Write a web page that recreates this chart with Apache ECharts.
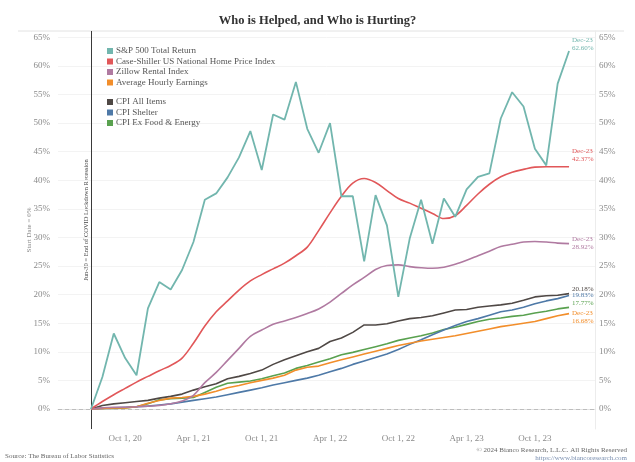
<!DOCTYPE html>
<html><head><meta charset="utf-8">
<script src="https://cdn.jsdelivr.net/npm/echarts@6/dist/echarts.min.js"></script>
<style>html,body{margin:0;padding:0;background:#fff}#c{width:635px;height:462px}</style>
</head><body><div id="c"></div>
<script>
// Month index 0 = Jun-30-2020 (start date), 42 = Dec-2023
const months = ['Jun-20','Jul-20','Aug-20','Sep-20','Oct-20','Nov-20','Dec-20',
 'Jan-21','Feb-21','Mar-21','Apr-21','May-21','Jun-21','Jul-21','Aug-21','Sep-21','Oct-21','Nov-21','Dec-21',
 'Jan-22','Feb-22','Mar-22','Apr-22','May-22','Jun-22','Jul-22','Aug-22','Sep-22','Oct-22','Nov-22','Dec-22',
 'Jan-23','Feb-23','Mar-23','Apr-23','May-23','Jun-23','Jul-23','Aug-23','Sep-23','Oct-23','Nov-23','Dec-23'];

const sp500 = [0, 5.6, 13.2, 8.9, 5.9, 17.6, 22.2, 20.9, 24.3, 29.2, 36.6, 37.7, 40.5, 44.0, 48.6, 41.8, 51.5, 50.6, 57.2, 49.0, 44.8, 50.0, 37.2, 37.2, 25.8, 37.4, 32.1, 19.6, 29.8, 36.6, 28.9, 36.8, 33.6, 38.4, 40.6, 41.2, 50.8, 55.4, 52.9, 45.5, 42.6, 56.9, 62.60];
const caseShiller = [0, 1.3, 2.5, 3.6, 4.7, 5.7, 6.7, 7.6, 8.9, 11.5, 14.5, 17.0, 18.9, 20.8, 22.4, 23.5, 24.5, 25.5, 26.8, 28.3, 31.2, 34.3, 37.2, 39.5, 40.3, 39.6, 38.2, 36.8, 36.0, 35.1, 34.2, 33.3, 33.8, 35.6, 37.6, 39.3, 40.6, 41.4, 41.9, 42.3, 42.37, 42.37, 42.37];
const zillow = [0, 0.2, 0.3, 0.3, 0.4, 0.5, 0.6, 0.9, 1.4, 2.4, 4.6, 6.4, 8.5, 10.6, 12.7, 13.8, 14.8, 15.4, 16.0, 16.7, 17.5, 18.7, 20.2, 21.7, 23.0, 24.4, 25.1, 25.2, 24.9, 24.7, 24.6, 24.8, 25.3, 26.0, 26.8, 27.6, 28.4, 28.8, 29.2, 29.3, 29.2, 29.0, 28.92];
const hourlyEarnings = [0, 0.1, 0.2, 0.2, 0.4, 1.0, 1.5, 1.9, 2.0, 2.2, 2.6, 3.1, 3.7, 4.1, 4.6, 5.0, 5.4, 5.9, 6.8, 7.3, 7.5, 8.1, 8.6, 9.1, 9.6, 10.1, 10.6, 11.1, 11.5, 11.9, 12.2, 12.5, 12.8, 13.2, 13.6, 14.0, 14.4, 14.7, 15.0, 15.3, 15.8, 16.3, 16.68];
const cpiAll = [0, 0.6, 0.9, 1.1, 1.3, 1.5, 1.9, 2.2, 2.6, 3.3, 3.9, 4.4, 5.3, 5.7, 6.2, 6.8, 7.8, 8.6, 9.3, 10.0, 10.6, 11.8, 12.4, 13.4, 14.7, 14.7, 14.9, 15.4, 15.8, 16.0, 16.3, 16.8, 17.3, 17.4, 17.8, 18.0, 18.2, 18.5, 19.0, 19.6, 19.8, 19.9, 20.18];
const cpiShelter = [0, 0.1, 0.2, 0.3, 0.4, 0.5, 0.7, 0.9, 1.2, 1.5, 1.8, 2.1, 2.5, 2.9, 3.3, 3.7, 4.2, 4.6, 5.0, 5.4, 5.9, 6.5, 7.1, 7.8, 8.4, 9.0, 9.6, 10.4, 11.3, 12.1, 13.0, 13.8, 14.6, 15.3, 15.8, 16.4, 17.0, 17.3, 17.8, 18.4, 18.9, 19.3, 19.83];
const cpiCore = [0, 0.1, 0.1, 0.2, 0.4, 0.9, 1.6, 1.8, 1.9, 2.0, 2.9, 3.8, 4.5, 4.7, 4.9, 5.3, 5.8, 6.3, 7.1, 7.6, 8.2, 8.8, 9.5, 9.9, 10.4, 10.9, 11.4, 12.0, 12.4, 12.8, 13.3, 13.9, 14.3, 14.8, 15.3, 15.7, 15.9, 16.2, 16.4, 16.8, 17.1, 17.5, 17.77];

const seriesNames = ['S&P 500 Total Return','Case-Shiller US National Home Price Index','Zillow Rental Index','Average Hourly Earnings','CPI All Items','CPI Shelter','CPI Ex Food & Energy'];
const xTickAt = [3, 9, 15, 21, 27, 33, 39];
const xTickLabels = ['Oct 1, 20','Apr 1, 21','Oct 1, 21','Apr 1, 22','Oct 1, 22','Apr 1, 23','Oct 1, 23'];
const yTicks = [0,5,10,15,20,25,30,35,40,45,50,55,60,65];

const FONT = 'Liberation Serif';
const colors = ['#72b6ae','#e15759','#b07aa1','#f28e2b','#4f4845','#4e79a7','#59a14f'];
const allData = [sp500, caseShiller, zillow, hourlyEarnings, cpiAll, cpiShelter, cpiCore];
const endCfg = [
  {dated:true, off:[-2,-7]},
  {dated:true, off:[-2,-12]},
  {dated:true, off:[-2,0]},
  {dated:true, off:[-2,4]},
  {dated:false, off:[-2,-4]},
  {dated:false, off:[-2,0]},
  {dated:false, off:[-2,-4]}
];

const chart = echarts.init(document.getElementById('c'), null, {renderer:'canvas'});
const series = allData.map((arr, i) => {
  const s = {
    name: seriesNames[i], type: 'line', yAxisIndex: 0,
    data: arr.map((v, k) => [k, v]),
    showSymbol: false, symbol: 'none',
    smooth: (i === 1 || i === 2) ? 0.35 : false,
    lineStyle: {width: i === 0 ? 1.8 : 1.6, color: colors[i]},
    itemStyle: {color: colors[i]},
    z: 10 - i,
    endLabel: {
      show: true,
      formatter: p => (endCfg[i].dated ? months[months.length-1] + '\n' : '') + p.value[1].toFixed(2) + '%',
      color: colors[i], fontFamily: FONT, fontSize: 7, lineHeight: 8,
      align: 'left', verticalAlign: 'middle', distance: 5,
      offset: endCfg[i].off
    },
    emphasis: {disabled: true}
  };
  if (i === 0) {
    s.markLine = {
      silent: true, symbol: 'none', label: {show: false},
      data: [
        {yAxis: 0, lineStyle: {color: '#bdbdbd', type: [4, 3], width: 1}},
        {xAxis: 0, lineStyle: {color: '#3a3a3a', type: 'solid', width: 1}}
      ]
    };
  }
  return s;
});

const legendBase = {
  orient: 'vertical', icon: 'rect', itemWidth: 6, itemHeight: 6, itemGap: 0.5,
  textStyle: {fontFamily: FONT, fontSize: 9, color: '#555', lineHeight: 10, padding: [0,0,0,-2]},
  selectedMode: false
};

const option = {
  animation: false,
  backgroundColor: '#fff',
  title: {
    text: 'Who is Helped, and Who is Hurting?', left: 'center', top: 9,
    textStyle: {fontFamily: FONT, fontSize: 12.5, fontWeight: 'bold', color: '#333'}
  },
  legend: [
    Object.assign({}, legendBase, {left: 102, top: 41, data: seriesNames.slice(0,4)}),
    Object.assign({}, legendBase, {left: 102, top: 92, data: seriesNames.slice(4)})
  ],
  grid: {left: 58, right: 40, top: 31, bottom: 33, containLabel: false},
  xAxis: {
    type: 'value', min: -2.9, max: 44.28,
    axisLine: {show: true, lineStyle: {color: '#e2e2e2'}},
    axisTick: {show: false, customValues: xTickAt},
    splitLine: {show: false},
    axisLabel: {
      customValues: xTickAt, margin: 5, color: '#8a8a8a', fontFamily: FONT, fontSize: 9,
      formatter: v => { const j = xTickAt.indexOf(v); return j >= 0 ? xTickLabels[j] : ''; }
    }
  },
  yAxis: [
    {
      type: 'value', min: -3.5, max: 66.1, position: 'left',
      name: 'Start Date = 0%', nameLocation: 'middle', nameGap: 25, nameRotate: 90, nameMoveOverlap: false,
      nameTextStyle: {fontFamily: FONT, fontSize: 7, color: '#8a8a8a'},
      axisLine: {show: true, lineStyle: {color: '#ececec'}},
      axisTick: {show: false, customValues: yTicks},
      splitLine: {show: true, lineStyle: {color: '#f3f3f3'}},
      axisLabel: {customValues: yTicks, formatter: '{value}%', color: '#8a8a8a', fontFamily: FONT, fontSize: 9, margin: 8}
    },
    {
      type: 'value', min: -3.5, max: 66.1, position: 'right',
      axisLine: {show: true, lineStyle: {color: '#ececec'}},
      axisTick: {show: false, customValues: yTicks},
      splitLine: {show: false},
      axisLabel: {customValues: yTicks, formatter: '{value}%', color: '#8a8a8a', fontFamily: FONT, fontSize: 9, margin: 4}
    }
  ],
  series: series,
  graphic: [
    {type: 'line', shape: {x1: 18, y1: 31, x2: 624, y2: 31}, style: {stroke: '#e2e2e2', lineWidth: 1}, silent: true},
    {type: 'text', x: 86, y: 220, rotation: Math.PI/2,
     style: {text: 'Jun-30 = End of COVID Lockdown Recession', fill: '#444', font: '6.5px "Liberation Serif"', align: 'center', verticalAlign: 'middle'}},
    {type: 'text', left: 5, top: 453,
     style: {text: 'Source: The Bureau of Labor Statistics', fill: '#666', font: '7px "Liberation Serif"'}},
    {type: 'text', right: 8, top: 447,
     style: {text: '\u00A9 2024 Bianco Research, L.L.C. All Rights Reserved', fill: '#666', font: '7px "Liberation Serif"', align: 'right'}},
    {type: 'text', right: 8, top: 455,
     style: {text: 'https://www.biancoresearch.com', fill: '#7a8fb0', font: '7px "Liberation Serif"', align: 'right'}}
  ]
};
chart.setOption(option);
</script>
</body></html>
